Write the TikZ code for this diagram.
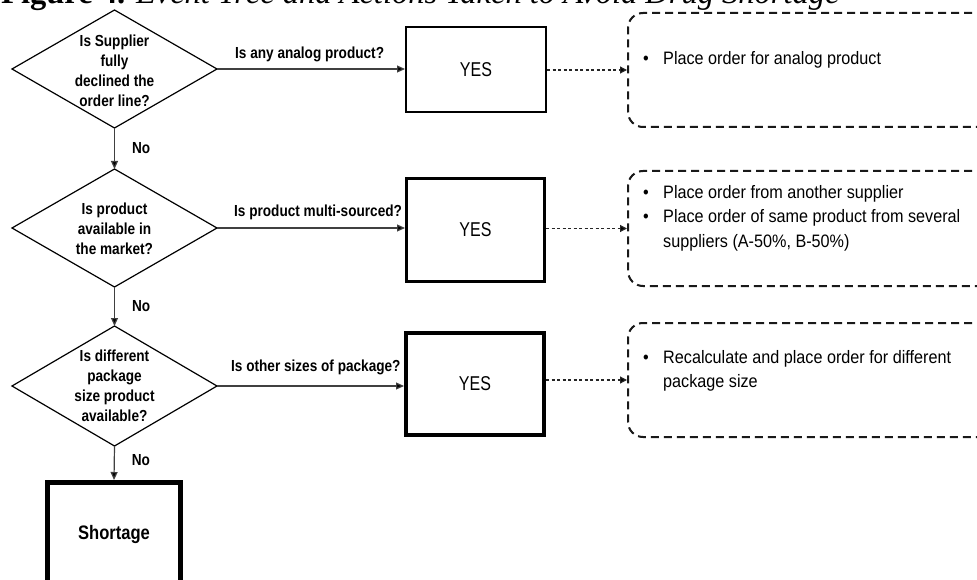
\documentclass[tikz,border=0pt]{standalone}
\usepackage{fontspec}
\setmainfont{Liberation Sans}
\newfontfamily\nsans[FakeStretch=0.85]{Liberation Sans}
\newfontfamily\ysans[FakeStretch=0.8]{Liberation Sans}
\newfontfamily\bsans[FakeStretch=0.9]{Liberation Sans}
\newfontfamily\tserif{Liberation Serif}
\usetikzlibrary{shapes.geometric,arrows.meta}
\begin{document}
\begin{tikzpicture}[x=1pt,y=-1pt,
  dia/.style={draw=black, shape=diamond, line width=1.2pt, minimum width=205pt,
    minimum height=118pt, inner sep=0pt, outer sep=0pt},
  diatext/.style={align=center, inner sep=0pt, font=\nsans\bfseries\fontsize{16}{20}\selectfont},
  lbl/.style={anchor=west, inner sep=0pt, font=\nsans\bfseries\fontsize{16}{20}\selectfont},
  nolbl/.style={anchor=west, inner sep=0pt, xshift=17pt, font=\nsans\bfseries\fontsize{16}{20}\selectfont},
  yesbox/.style={draw=black, rectangle, inner sep=0pt, font=\ysans\fontsize{20}{24}\selectfont},
  endbox/.style={draw=black, rectangle, line width=5pt, inner sep=0pt,
    minimum width=133pt, minimum height=103pt, font=\nsans\bfseries\fontsize{19.5}{24}\selectfont},
  actbox/.style={draw=black!90, rectangle, rounded corners=15pt, line width=2pt,
    dash pattern=on 8pt off 5pt, minimum width=372pt, inner sep=0pt},
  acttext/.style={anchor=west, inner sep=0pt, align=left, font=\bsans\fontsize{18}{24.5}\selectfont},
  arr/.style={draw=black!75, line width=1.2pt, -{Triangle[length=8pt,width=7pt,fill=black]}},
  dotarr/.style={draw=black!85, line width=1.2pt, dash pattern=on 3pt off 2.5pt,
    -{Triangle[length=7pt,width=7pt,fill=black]}}
]
\clip (0,0) rectangle (977,580);
\fill[white] (0,0) rectangle (977,580);

% title (cut off at the top)
\node[anchor=base west, inner sep=0pt, font=\tserif\fontsize{32.5}{34}\selectfont] (title) at (1,3.5)
  {\textbf{Figure 4.} \textit{Event Tree and Actions Taken to Avoid Drug Shortage}};

% decision diamonds
\node[dia] (d1) at (114.5,69) {};
\node[diatext] (t1) at (114.5,71) {Is Supplier\\fully\\declined the\\order line?};
\node[dia] (d2) at (114.5,228) {};
\node[diatext] (t2) at (114.5,229) {Is product\\available in\\the market?};
\node[dia, minimum height=120pt] (d3) at (114.5,386) {};
\node[diatext] (t3) at (114.5,386) {Is different\\package\\size product\\available?};

% YES boxes
\node[yesbox, line width=1.7pt, minimum width=140.3pt, minimum height=85.3pt] (y1) at (476,69.5) {YES};
\node[yesbox, line width=3pt, minimum width=138pt, minimum height=103pt] (y2) at (475.5,230) {YES};
\node[yesbox, line width=4pt, minimum width=138pt, minimum height=102pt] (y3) at (475,384) {YES};

% shortage
\node[endbox] (sh) at (114,534) {Shortage};

% action boxes
\node[actbox, minimum height=114pt] (a1) at (814,70) {};
\node[actbox, minimum height=115pt] (a2) at (814,228.5) {};
\node[actbox, minimum height=114pt] (a3) at (814,380) {};

\node[acttext] (at1) at (643,59.6) {\begin{tabular}{@{}l@{}l@{}}
  \makebox[20pt][l]{\textbullet} & Place order for analog product\end{tabular}};
\node[acttext] (at2) at (643,218) {\begin{tabular}{@{}l@{}l@{}}
  \makebox[20pt][l]{\textbullet} & Place order from another supplier\\
  \makebox[20pt][l]{\textbullet} & Place order of same product from several\\
  & suppliers (A-50\%, B-50\%)\end{tabular}};
\node[acttext] (at3) at (643,370.6) {\begin{tabular}{@{}l@{}l@{}}
  \makebox[20pt][l]{\textbullet} & Recalculate and place order for different\\
  & package size\end{tabular}};

% horizontal connectors with questions
\draw[arr] (d1.east) -- (y1.west |- d1.east);
\node[lbl] (q1) at (235,54) {Is any analog product?};
\draw[arr] (d2.east) -- (y2.west |- d2.east);
\node[lbl] (q2) at (234,212) {Is product multi-sourced?};
\draw[arr] (d3.east) -- (y3.west |- d3.east);
\node[lbl] (q3) at (231,367) {Is other sizes of package?};

% dotted connectors
\draw[dotarr] (y1.east |- a1.west) -- (a1.west);
\draw[dotarr] (y2.east |- a2.west) -- (a2.west);
\draw[dotarr] (y3.east |- a3.west) -- (a3.west);

% No branches
\draw[arr] (d1.south) -- node[nolbl] {No} (d2.north);
\draw[arr] (d2.south) -- node[nolbl] {No} (d3.north);
\draw[arr] (d3.south) -- node[nolbl, yshift=3pt] {No} (sh.north);
\end{tikzpicture}
\end{document}
